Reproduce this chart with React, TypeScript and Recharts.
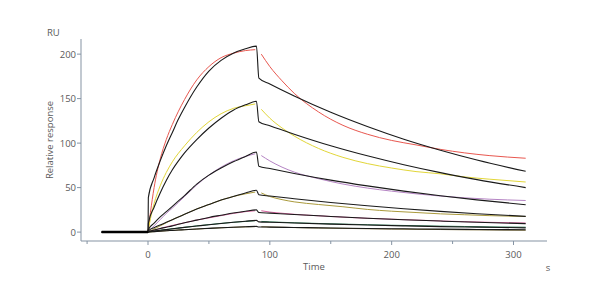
import { Line, LineChart, XAxis, YAxis } from 'recharts'

// fitted curves (black): baseline, jump at injection start, drop at injection end
const fitTimes = [-38, 0, 0.3, 5, 10, 15, 20, 25, 30, 40, 50, 60, 70, 80, 89, 91, 100, 120, 150, 180, 210, 240, 270, 310]
const fit1 = [0, 0, 39, 61, 80, 97, 112, 127, 140, 163, 181, 193, 201, 206, 209, 173, 166.5, 153, 134.7, 118.7, 104.4, 92, 81, 68.3]
const fit2 = [0, 0, 10, 28, 44, 58, 70, 80, 89, 104, 117, 128, 137, 143, 147, 124, 119.4, 110, 97, 85.7, 75.7, 66.8, 59, 50]
const fit3 = [0, 0, 3, 10, 17, 23, 29, 35, 41, 54, 64, 72, 79, 85, 90, 74, 71.4, 65.9, 58.4, 51.9, 46, 40.8, 36.2, 30.8]
const fit4 = [0, 0, 1.5, 5, 8, 11, 14, 17, 20, 26, 31, 36, 40, 44, 47, 42, 40.5, 37.5, 33.3, 29.6, 26.3, 23.3, 20.7, 17.7]
const fit5 = [0, 0, 0.5, 2.3, 4, 5.5, 7, 8.8, 10.5, 13.5, 16.5, 19, 21.5, 23.5, 25, 22, 21.3, 19.7, 17.6, 15.6, 13.9, 12.4, 11, 9.5]
const fit6 = [0, 0, 0.3, 1.2, 2, 2.8, 3.7, 4.5, 5.3, 6.8, 8.3, 9.7, 11, 12.2, 13.2, 11.5, 11.1, 10.2, 9, 7.9, 7, 6.2, 5.6, 4.8]
const fit7 = [0, 0, 0.1, 0.5, 1, 1.5, 1.9, 2.3, 2.7, 3.5, 4.2, 4.9, 5.5, 6, 6.4, 5.8, 5.6, 5.2, 4.6, 4.1, 3.7, 3.3, 3, 2.6]

// measured curves (coloured), gap between association and dissociation
const dataTimes = [0, 2, 5, 10, 15, 20, 30, 40, 50, 60, 70, 80, 88, 90.5, 93, 100, 110, 120, 140, 160, 180, 200, 220, 240, 260, 280, 310]
const red = [0, 22, 50, 82, 104, 121, 149, 171, 186, 196, 201, 204, 205, null, 200, 186, 170, 156, 135, 120, 110, 103, 98, 93, 89, 86, 83]
const yellow = [0, 15, 32, 52, 67, 79, 97, 112, 124, 133, 139, 142, 144, null, 138, 128, 117, 108, 94, 84, 77, 72, 68, 65.5, 62, 59.5, 56.3]
const purple = [0, 3, 7, 14, 21, 27, 40, 53, 64, 73, 80, 85, 88, null, 86, 80, 73, 67.5, 60, 54, 49.5, 46, 43, 40.5, 38.5, 37, 35.5]
const olive = [0, 1.5, 3.5, 7, 10.5, 14, 20, 26, 31, 36, 40, 43, 45, null, 44, 40, 36.5, 34, 31, 28.5, 25.5, 23.5, 22, 20.5, 19.5, 18.5, 17.5]
const pink = [0, 0.8, 2, 4, 6, 7.5, 10.5, 13.5, 16, 18.5, 21, 23, 24, null, 24, 22.5, 21.2, 20, 18.3, 16.8, 15.5, 14.5, 13.5, 12.5, 11.7, 11, 10.2]
const green = [0, 0.4, 1, 2, 2.9, 3.8, 5.4, 7, 8.4, 9.8, 11, 12, 12.8, null, 12, 11.5, 11, 10.5, 9.7, 9, 8.3, 7.7, 7.2, 6.7, 6.3, 5.9, 5.5]
const brown = [0, 0.2, 0.5, 1, 1.5, 1.9, 2.7, 3.4, 4.1, 4.8, 5.4, 5.9, 6.2, null, 6, 5.7, 5.4, 5.1, 4.6, 4.2, 3.8, 3.4, 3.1, 2.9, 2.6, 2.4, 2.1]

const xTicks = [-50, 0, 50, 100, 150, 200, 250, 300]
const yTicks = [0, 25, 50, 75, 100, 125, 150, 175, 200]

const axisColor = '#8593a3'
const textColor = '#5a5a5a'
const font = '"Open Sans", sans-serif'

const toPoints = (times: number[], values: (number | null)[]) =>
  times.map((t, i) => ({ t, v: values[i] }))

const fits = [fit1, fit2, fit3, fit4, fit5, fit6, fit7]
const measured = [
  { values: red, color: '#e8574f' },
  { values: yellow, color: '#e2d638' },
  { values: purple, color: '#b584c4' },
  { values: olive, color: '#aa9a3c' },
  { values: pink, color: '#d8629f' },
  { values: green, color: '#2e7d55' },
  { values: brown, color: '#7d6c34' },
]

function XTick(props: any) {
  const { x, y, payload } = props
  const major = payload.value % 100 === 0
  return (
    <g>
      <line x1={x} x2={x} y1={y} y2={y + (major ? 4 : 3)} stroke={axisColor} />
      {major && (
        <text x={x} y={y + 17} textAnchor="middle" fontSize={9.5} fill={textColor} fontFamily={font}>
          {payload.value}
        </text>
      )}
    </g>
  )
}

function YTick(props: any) {
  const { x, y, payload } = props
  const major = payload.value % 50 === 0
  return (
    <g>
      <line x1={x} x2={x - (major ? 4 : 2.5)} y1={y} y2={y} stroke={axisColor} />
      {major && (
        <text x={x - 5} y={y + 3.5} textAnchor="end" fontSize={9.5} fill={textColor} fontFamily={font}>
          {payload.value}
        </text>
      )}
    </g>
  )
}

const labelStyle = {
  position: 'absolute' as const,
  fontFamily: font,
  fontSize: 9.5,
  color: textColor,
  lineHeight: '12px',
  whiteSpace: 'nowrap' as const,
}

export default function App() {
  return (
    <div style={{ position: 'absolute', left: 0, top: 0, width: 600, height: 300, background: '#fff' }}>
      <LineChart width={600} height={300} margin={{ top: 39, right: 53, left: 41, bottom: 29 }}>
        <XAxis
          type="number"
          dataKey="t"
          domain={[-55, 327.5]}
          ticks={xTicks}
          tick={<XTick />}
          tickSize={0}
          tickMargin={0}
          tickLine={false}
          axisLine={{ stroke: axisColor }}
          height={30}
          allowDataOverflow
        />
        <YAxis
          type="number"
          dataKey="v"
          domain={[-10, 217]}
          ticks={yTicks}
          tick={<YTick />}
          tickSize={0}
          tickMargin={0}
          tickLine={false}
          axisLine={{ stroke: axisColor }}
          width={40}
          allowDataOverflow
        />
        {measured.map((m, i) => (
          <Line
            key={`m${i}`}
            data={toPoints(dataTimes, m.values)}
            dataKey="v"
            type="monotone"
            stroke={m.color}
            strokeWidth={1}
            dot={false}
            connectNulls={false}
            isAnimationActive={false}
          />
        ))}
        {fits.map((f, i) => (
          <Line
            key={`f${i}`}
            data={toPoints(fitTimes, f)}
            dataKey="v"
            type="monotone"
            stroke="#1a1a1a"
            strokeWidth={1.1}
            dot={false}
            isAnimationActive={false}
          />
        ))}
        <Line
          data={toPoints([-38, 0], [0, 0])}
          dataKey="v"
          type="linear"
          stroke="#000"
          strokeWidth={2.5}
          dot={false}
          isAnimationActive={false}
        />
      </LineChart>
      <div style={{ ...labelStyle, left: 47, top: 27 }}>RU</div>
      <div
        style={{
          ...labelStyle,
          left: 50,
          top: 140,
          transform: 'translate(-50%, -50%) rotate(-90deg)',
        }}
      >
        Relative response
      </div>
      <div style={{ ...labelStyle, left: 314, top: 267, transform: 'translate(-50%, -50%)' }}>Time</div>
      <div style={{ ...labelStyle, left: 548, top: 268, transform: 'translate(-50%, -50%)' }}>s</div>
    </div>
  )
}
